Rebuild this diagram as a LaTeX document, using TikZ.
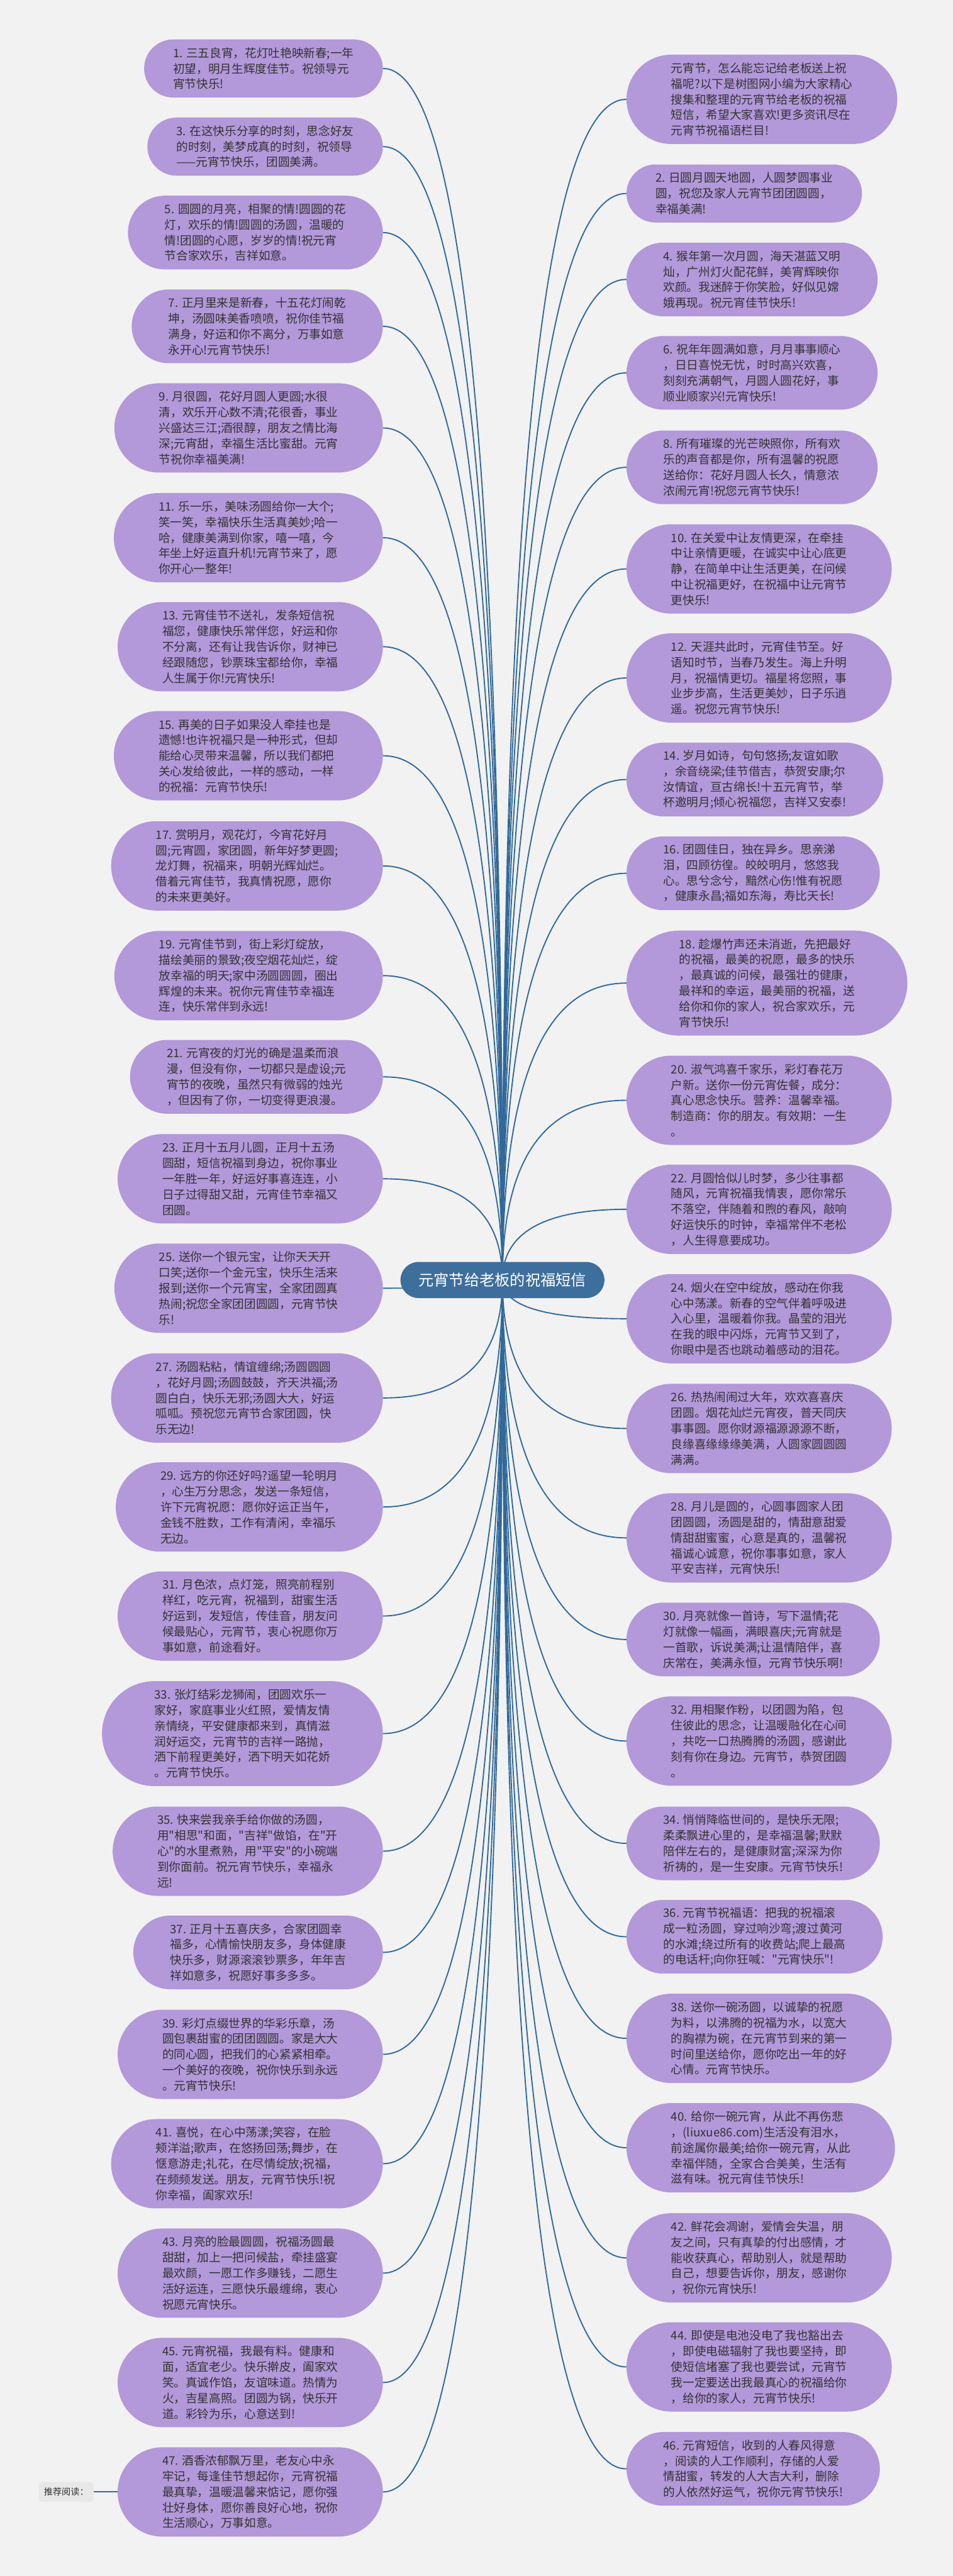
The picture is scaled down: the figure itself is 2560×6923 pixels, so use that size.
\documentclass[tikz,border=0pt]{standalone}
\usepackage{fontspec}
\newfontfamily\cjk{Noto Sans CJK SC}
\usetikzlibrary{calc}
\definecolor{bgc}{HTML}{F2F2F2}
\definecolor{leaffill}{HTML}{B398DA}
\definecolor{textc}{HTML}{333333}
\definecolor{ctrfill}{HTML}{3D6E9C}
\definecolor{edgec}{HTML}{30699A}
\definecolor{recfill}{HTML}{E8E8E8}
\newcommand\leaffont{\cjk\fontsize{15.75pt}{21pt}\selectfont}
\pgfdeclarelayer{bgl}
\pgfdeclarelayer{edl}
\pgfsetlayers{bgl,edl,main}
\tikzset{
  leaf/.style={fill=leaffill, text=textc, font=\leaffont, align=left, inner ysep=0pt},
  hthree/.style={minimum height=78pt, inner xsep=39pt, rounded corners=39pt},
  hfour/.style={minimum height=99pt, inner xsep=49.5pt, rounded corners=49.5pt},
  hfive/.style={minimum height=120pt, inner xsep=60pt, rounded corners=60pt},
  hsix/.style={minimum height=141pt, inner xsep=70.5pt, rounded corners=70.5pt},
  lft/.style={leaf, anchor=east},
  rgt/.style={leaf, anchor=west},
  edge/.style={draw=edgec, line width=1.6pt},
}
\begin{document}
\begin{tikzpicture}[x=0.5pt,y=-0.5pt]
\useasboundingbox (0,0) rectangle (2560,6923);
\begin{pgfonlayer}{bgl}
\fill[bgc] (0,0) rectangle (2560,6923);
\end{pgfonlayer}

% centre
\node[fill=ctrfill, text=white, font={\cjk\fontsize{20.5pt}{24pt}\selectfont}, minimum height=48.5pt, inner xsep=24.25pt, inner ysep=0pt, rounded corners=24.25pt] (ctr) at (1350,3440) {元宵节给老板的祝福短信};

% left column
\node[lft,hthree] (L1) at (1029,184) {1. 三五良宵，花灯吐艳映新春;一年\\初望，明月生辉度佳节。祝领导元\\宵节快乐!};
\node[lft,hthree] (L3) at (1029,394) {3. 在这快乐分享的时刻，思念好友\\的时刻，美梦成真的时刻，祝领导\\——元宵节快乐，团圆美满。};
\node[lft,hfour] (L5) at (1029,625) {5. 圆圆的月亮，相聚的情!圆圆的花\\灯，欢乐的情!圆圆的汤圆，温暖的\\情!团圆的心愿，岁岁的情!祝元宵\\节合家欢乐，吉祥如意。};
\node[lft,hfour] (L7) at (1029,877) {7. 正月里来是新春，十五花灯闹乾\\坤，汤圆味美香喷喷，祝你佳节福\\满身，好运和你不离分，万事如意\\永开心!元宵节快乐!};
\node[lft,hfive] (L9) at (1029,1150) {9.  月很圆，花好月圆人更圆;水很\\清，欢乐开心数不清;花很香，事业\\兴盛达三江;酒很醇，朋友之情比海\\深;元宵甜，幸福生活比蜜甜。元宵\\节祝你幸福美满!};
\node[lft,hfive] (L11) at (1029,1445) {11.  乐一乐，美味汤圆给你一大个;\\笑一笑，幸福快乐生活真美妙;哈一\\哈，健康美满到你家，嘻一嘻，今\\年坐上好运直升机!元宵节来了，愿\\你开心一整年!};
\node[lft,hfive] (L13) at (1029,1738) {13.  元宵佳节不送礼，发条短信祝\\福您，健康快乐常伴您，好运和你\\不分离，还有让我告诉你，财神已\\经跟随您，钞票珠宝都给你，幸福\\人生属于你!元宵快乐!};
\node[lft,hfive] (L15) at (1029,2031) {15.  再美的日子如果没人牵挂也是\\遗憾!也许祝福只是一种形式，但却\\能给心灵带来温馨，所以我们都把\\关心发给彼此，一样的感动，一样\\的祝福：元宵节快乐!};
\node[lft,hfive] (L17) at (1029,2327) {17. 赏明月，观花灯，今宵花好月\\圆;元宵圆，家团圆，新年好梦更圆;\\龙灯舞，祝福来，明朝光辉灿烂。\\借着元宵佳节，我真情祝愿，愿你\\的未来更美好。};
\node[lft,hfive] (L19) at (1029,2622) {19.  元宵佳节到，街上彩灯绽放，\\描绘美丽的景致;夜空烟花灿烂，绽\\放幸福的明天;家中汤圆圆圆，圈出\\辉煌的未来。祝你元宵佳节幸福连\\连，快乐常伴到永远!};
\node[lft,hfour] (L21) at (1029,2894) {21. 元宵夜的灯光的确是温柔而浪\\漫，但没有你，一切都只是虚设;元\\宵节的夜晚，虽然只有微弱的烛光\\，但因有了你，一切变得更浪漫。};
\node[lft,hfive] (L23) at (1029,3168) {23. 正月十五月儿圆，正月十五汤\\圆甜，短信祝福到身边，祝你事业\\一年胜一年，好运好事喜连连，小\\日子过得甜又甜，元宵佳节幸福又\\团圆。};
\node[lft,hfive] (L25) at (1029,3462) {25. 送你一个银元宝，让你天天开\\口笑;送你一个金元宝，快乐生活来\\报到;送你一个元宵宝，全家团圆真\\热闹;祝您全家团团圆圆，元宵节快\\乐!};
\node[lft,hfive] (L27) at (1029,3757) {27. 汤圆粘粘，情谊缠绵;汤圆圆圆\\，花好月圆;汤圆鼓鼓，齐天洪福;汤\\圆白白，快乐无邪;汤圆大大，好运\\呱呱。预祝您元宵节合家团圆，快\\乐无边!};
\node[lft,hfive] (L29) at (1029,4050) {29. 远方的你还好吗?遥望一轮明月\\，心生万分思念，发送一条短信，\\许下元宵祝愿：愿你好运正当午，\\金钱不胜数，工作有清闲，幸福乐\\无边。};
\node[lft,hfive] (L31) at (1029,4343) {31. 月色浓，点灯笼，照亮前程别\\样红，吃元宵，祝福到，甜蜜生活\\好运到，发短信，传佳音，朋友问\\候最贴心，元宵节，衷心祝愿你万\\事如意，前途看好。};
\node[lft,hsix] (L33) at (1029,4659) {33.  张灯结彩龙狮闹，团圆欢乐一\\家好，家庭事业火红照，爱情友情\\亲情绕，平安健康都来到，真情滋\\润好运交，元宵节的吉祥一路抛，\\洒下前程更美好，洒下明天如花娇\\。元宵节快乐。};
\node[lft,hfive] (L35) at (1029,4975) {35. 快来尝我亲手给你做的汤圆，\\用"相思"和面，"吉祥"做馅，在"开\\心"的水里煮熟，用"平安"的小碗端\\到你面前。祝元宵节快乐，幸福永\\远!};
\node[lft,hfour] (L37) at (1029,5247) {37. 正月十五喜庆多，合家团圆幸\\福多，心情愉快朋友多，身体健康\\快乐多，财源滚滚钞票多，年年吉\\祥如意多，祝愿好事多多多。};
\node[lft,hfive] (L39) at (1029,5521) {39. 彩灯点缀世界的华彩乐章，汤\\圆包裹甜蜜的团团圆圆。家是大大\\的同心圆，把我们的心紧紧相牵。\\一个美好的夜晚，祝你快乐到永远\\。元宵节快乐!};
\node[lft,hfive] (L41) at (1029,5815) {41.  喜悦，在心中荡漾;笑容，在脸\\颊洋溢;歌声，在悠扬回荡;舞步，在\\惬意游走;礼花，在尽情绽放;祝福，\\在频频发送。朋友，元宵节快乐!祝\\你幸福，阖家欢乐!};
\node[lft,hfive] (L43) at (1029,6109) {43. 月亮的脸最圆圆，祝福汤圆最\\甜甜，加上一把问候盐，牵挂盛宴\\最欢颜，一愿工作多赚钱，二愿生\\活好运连，三愿快乐最缠绵，衷心\\祝愿元宵快乐。};
\node[lft,hfive] (L45) at (1029,6403) {45.  元宵祝福，我最有料。健康和\\面，适宜老少。快乐擀皮，阖家欢\\笑。真诚作馅，友谊味道。热情为\\火，吉星高照。团圆为锅，快乐开\\道。彩铃为乐，心意送到!};
\node[lft,hfive] (L47) at (1029,6697) {47.  酒香浓郁飘万里，老友心中永\\牢记，每逢佳节想起你，元宵祝福\\最真挚，温暖温馨来惦记，愿你强\\壮好身体，愿你善良好心地，祝你\\生活顺心，万事如意。};

% right column
\node[rgt,hfive] (R0) at (1683,267) {元宵节，怎么能忘记给老板送上祝\\福呢?以下是树图网小编为大家精心\\搜集和整理的元宵节给老板的祝福\\短信，希望大家喜欢!更多资讯尽在\\元宵节祝福语栏目!};
\node[rgt,hthree] (R2) at (1683,520) {2. 日圆月圆天地圆，人圆梦圆事业\\圆，祝您及家人元宵节团团圆圆，\\幸福美满!};
\node[rgt,hfour] (R4) at (1683,751) {4. 猴年第一次月圆，海天湛蓝又明\\灿，广州灯火配花鲜，美宵辉映你\\欢颜。我迷醉于你笑脸，好似见嫦\\娥再现。祝元宵佳节快乐!};
\node[rgt,hfour] (R6) at (1683,1002) {6. 祝年年圆满如意，月月事事顺心\\，日日喜悦无忧，时时高兴欢喜，\\刻刻充满朝气，月圆人圆花好，事\\顺业顺家兴!元宵快乐!};
\node[rgt,hfour] (R8) at (1683,1256) {8. 所有璀璨的光芒映照你，所有欢\\乐的声音都是你，所有温馨的祝愿\\送给你：花好月圆人长久，情意浓\\浓闹元宵!祝您元宵节快乐!};
\node[rgt,hfive] (R10) at (1683,1529) {10. 在关爱中让友情更深，在牵挂\\中让亲情更暖，在诚实中让心底更\\静，在简单中让生活更美，在问候\\中让祝福更好，在祝福中让元宵节\\更快乐!};
\node[rgt,hfive] (R12) at (1683,1822) {12.  天涯共此时，元宵佳节至。好\\语知时节，当春乃发生。海上升明\\月，祝福情更切。福星将您照，事\\业步步高，生活更美妙，日子乐逍\\遥。祝您元宵节快乐!};
\node[rgt,hfour] (R14) at (1683,2095) {14. 岁月如诗，句句悠扬;友谊如歌\\，余音绕梁;佳节借吉，恭贺安康;尔\\汝情谊，亘古绵长!十五元宵节，举\\杯邀明月;倾心祝福您，吉祥又安泰!};
\node[rgt,hfour] (R16) at (1683,2347) {16. 团圆佳日，独在异乡。思亲涕\\泪，四顾彷徨。皎皎明月，悠悠我\\心。思兮念兮，黯然心伤!惟有祝愿\\，健康永昌;福如东海，寿比天长!};
\node[rgt,hsix] (R18) at (1683,2642) {18.  趁爆竹声还未消逝，先把最好\\的祝福，最美的祝愿，最多的快乐\\，最真诚的问候，最强壮的健康，\\最祥和的幸运，最美丽的祝福，送\\给你和你的家人，祝合家欢乐，元\\宵节快乐!};
\node[rgt,hfive] (R20) at (1683,2957) {20. 淑气鸿喜千家乐，彩灯春花万\\户新。送你一份元宵佐餐，成分：\\真心思念快乐。营养：温馨幸福。\\制造商：你的朋友。有效期：一生\\。};
\node[rgt,hfive] (R22) at (1683,3250) {22. 月圆恰似儿时梦，多少往事都\\随风，元宵祝福我情衷，愿你常乐\\不落空，伴随着和煦的春风，敲响\\好运快乐的时钟，幸福常伴不老松\\，人生得意要成功。};
\node[rgt,hfive] (R24) at (1683,3544) {24.  烟火在空中绽放，感动在你我\\心中荡漾。新春的空气伴着呼吸进\\入心里，温暖着你我。晶莹的泪光\\在我的眼中闪烁，元宵节又到了，\\你眼中是否也跳动着感动的泪花。};
\node[rgt,hfive] (R26) at (1683,3839) {26. 热热闹闹过大年，欢欢喜喜庆\\团圆。烟花灿烂元宵夜，普天同庆\\事事圆。愿你财源福源源源不断，\\良缘喜缘缘缘美满，人圆家圆圆圆\\满满。};
\node[rgt,hfive] (R28) at (1683,4133) {28.  月儿是圆的，心圆事圆家人团\\团圆圆，汤圆是甜的，情甜意甜爱\\情甜甜蜜蜜，心意是真的，温馨祝\\福诚心诚意，祝你事事如意，家人\\平安吉祥，元宵快乐!};
\node[rgt,hfour] (R30) at (1683,4406) {30. 月亮就像一首诗，写下温情;花\\灯就像一幅画，满眼喜庆;元宵就是\\一首歌，诉说美满;让温情陪伴，喜\\庆常在，美满永恒，元宵节快乐啊!};
\node[rgt,hfive] (R32) at (1683,4679) {32. 用相聚作粉，以团圆为陷，包\\住彼此的思念，让温暖融化在心间\\，共吃一口热腾腾的汤圆，感谢此\\刻有你在身边。元宵节，恭贺团圆\\。};
\node[rgt,hfour] (R34) at (1683,4954) {34. 悄悄降临世间的，是快乐无限;\\柔柔飘进心里的，是幸福温馨;默默\\陪伴左右的，是健康财富;深深为你\\祈祷的，是一生安康。元宵节快乐!};
\node[rgt,hfour] (R36) at (1683,5205) {36. 元宵节祝福语：把我的祝福滚\\成一粒汤圆，穿过响沙弯;渡过黄河\\的水滩;绕过所有的收费站;爬上最高\\的电话杆;向你狂喊："元宵快乐"!};
\node[rgt,hfive] (R38) at (1683,5478) {38. 送你一碗汤圆，以诚挚的祝愿\\为料，以沸腾的祝福为水，以宽大\\的胸襟为碗，在元宵节到来的第一\\时间里送给你，愿你吃出一年的好\\心情。元宵节快乐。};
\node[rgt,hfive] (R40) at (1683,5772) {40. 给你一碗元宵，从此不再伤悲\\，(liuxue86.com)生活没有泪水，\\前途属你最美;给你一碗元宵，从此\\幸福伴随，全家合合美美，生活有\\滋有味。祝元宵佳节快乐!};
\node[rgt,hfive] (R42) at (1683,6068) {42. 鲜花会凋谢，爱情会失温，朋\\友之间，只有真挚的付出感情，才\\能收获真心，帮助别人，就是帮助\\自己，想要告诉你，朋友，感谢你\\，祝你元宵快乐!};
\node[rgt,hfive] (R44) at (1683,6361) {44.  即使是电池没电了我也豁出去\\，即使电磁辐射了我也要坚持，即\\使短信堵塞了我也要尝试，元宵节\\我一定要送出我最真心的祝福给你\\，给你的家人，元宵节快乐!};
\node[rgt,hfour] (R46) at (1683,6635) {46. 元宵短信，收到的人春风得意\\，阅读的人工作顺利，存储的人爱\\情甜蜜，转发的人大吉大利，删除\\的人依然好运气，祝你元宵节快乐!};

% recommended reading
\node[fill=recfill, text=textc, font={\cjk\fontsize{12pt}{14pt}\selectfont}, minimum width=73.5pt, minimum height=27pt, rounded corners=5pt] (rec) at (178,6697) {推荐阅读：};

\begin{pgfonlayer}{edl}
\foreach \n in {L1,L3,L5,L7,L9,L11,L13,L15,L17,L19,L21,L23,L25,L27,L29,L31,L33,L35,L37,L39,L41,L43,L45,L47}{
  \path (\n.east -| ctr.center) coordinate (kk);
  \draw[edge] (ctr.center) .. controls ($(ctr.center)!2/3!(kk)$) and ($(\n.east)!2/3!(kk)$) .. (\n.east);
}
\foreach \n in {R0,R2,R4,R6,R8,R10,R12,R14,R16,R18,R20,R22,R24,R26,R28,R30,R32,R34,R36,R38,R40,R42,R44,R46}{
  \path (\n.west -| ctr.center) coordinate (kk);
  \draw[edge] (ctr.center) .. controls ($(ctr.center)!2/3!(kk)$) and ($(\n.west)!2/3!(kk)$) .. (\n.west);
}
\draw[edge] (rec.east) -- (L47.west);
\end{pgfonlayer}
\end{tikzpicture}
\end{document}
